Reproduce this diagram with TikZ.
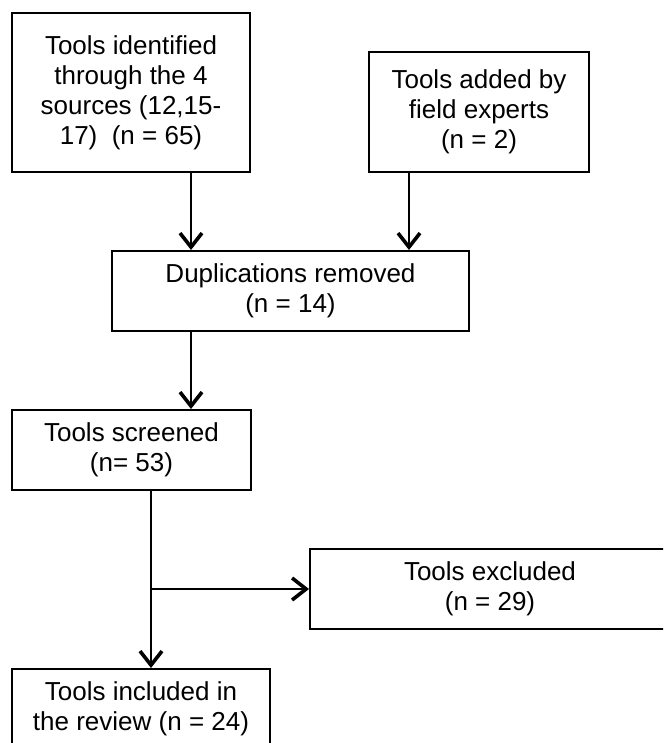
\documentclass[tikz,border=0pt]{standalone}
\usepackage{fontspec}
\setmainfont{Liberation Sans}
\usetikzlibrary{arrows.meta}

\begin{document}
\begin{tikzpicture}[x=0.5pt, y=-0.5pt,
    flowbox/.style={draw, rectangle, line width=1pt, inner sep=0pt, align=center,
        font=\fontsize{13pt}{15pt}\selectfont},
    flowline/.style={line width=1.2pt},
    >={Straight Barb[length=7pt, width=11pt, line width=1.8pt]}]
        \useasboundingbox (0,0) rectangle (663,743);
        \clip (0,0) rectangle (663,743);
        % Nodes
        \node[flowbox, minimum width=119pt, minimum height=79.5pt] (identified) at (131,92.5) {Tools identified\\through the 4\\sources (12,15-\\17)\ \ (n = 65)};
        \node[flowbox, minimum width=110pt, minimum height=60pt] (experts) at (479,112) {Tools added by\\field experts\\(n = 2)};
        \node[flowbox, minimum width=178.5pt, minimum height=40pt] (duplicates) at (290.5,291) {Duplications removed\\(n = 14)};
        \node[flowbox, minimum width=119.5pt, minimum height=40pt] (screened) at (131.5,450) {Tools screened\\(n= 53)};
        \node[flowbox, minimum width=180pt, minimum height=40pt] (excluded) at (490,589) {Tools excluded\\(n = 29)};
        \node[flowbox, minimum width=129pt, minimum height=40pt] (included) at (141,709) {Tools included in\\the review (n = 24)};
        \coordinate (leftcol) at (191,0);
        \coordinate (rightcol) at (409,0);
        \coordinate (lowcol) at (151,0);

        % Arrows
        \draw[flowline, ->] (identified.south -| leftcol) -- (duplicates.north -| leftcol);
        \draw[flowline, ->] (experts.south -| rightcol) -- (duplicates.north -| rightcol);
        \draw[flowline, ->] (duplicates.south -| leftcol) -- (screened.north -| leftcol);
        \draw[flowline, ->] (screened.south -| lowcol) -- (included.north -| lowcol);
        \draw[flowline, ->] (lowcol |- excluded.west) -- (excluded.west);
\end{tikzpicture}
\end{document}
